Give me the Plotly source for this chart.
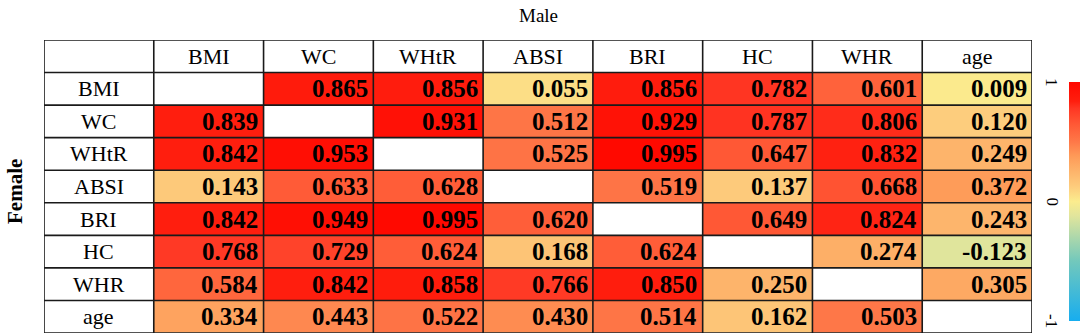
import plotly.graph_objects as go

labels = ["BMI", "WC", "WHtR", "ABSI", "BRI", "HC", "WHR", "age"]

# Upper triangle: Male; lower triangle: Female
row_BMI  = [None, 0.865, 0.856, 0.055, 0.856, 0.782, 0.601, 0.009]
row_WC   = [0.839, None, 0.931, 0.512, 0.929, 0.787, 0.806, 0.120]
row_WHtR = [0.842, 0.953, None, 0.525, 0.995, 0.647, 0.832, 0.249]
row_ABSI = [0.143, 0.633, 0.628, None, 0.519, 0.137, 0.668, 0.372]
row_BRI  = [0.842, 0.949, 0.995, 0.620, None, 0.649, 0.824, 0.243]
row_HC   = [0.768, 0.729, 0.624, 0.168, 0.624, None, 0.274, -0.123]
row_WHR  = [0.584, 0.842, 0.858, 0.766, 0.850, 0.250, None, 0.305]
row_age  = [0.334, 0.443, 0.522, 0.430, 0.514, 0.162, 0.503, None]
z = [row_BMI, row_WC, row_WHtR, row_ABSI, row_BRI, row_HC, row_WHR, row_age]

cbar_ticks = [-1, 0, 1]

colorscale = [
    [0.00, "#17adef"],
    [0.25, "#72c8bc"],
    [0.44, "#e1e59c"],
    [0.50, "#fbec8e"],
    [0.56, "#fdcd7d"],
    [0.625, "#fdb46b"],
    [0.69, "#fe9a58"],
    [0.75, "#fe7848"],
    [0.82, "#ff5a36"],
    [0.89, "#ff3623"],
    [0.92, "#ff1e0e"],
    [1.00, "#ff0800"],
]

n = len(labels)
SERIF = "Liberation Serif, Times New Roman, serif"

# plot area geometry (px)
L, R, T, B = 44, 52, 40, 2
W, H = 1084, 335
pw, ph = W - L - R, H - T - B
cb_top, cb_bot = 82, 321

fig = go.Figure()
fig.add_trace(go.Heatmap(
    z=z, x=list(range(n)), y=list(range(n)),
    zmin=-1, zmax=1, colorscale=colorscale, hoverongaps=False,
    colorbar=dict(
        thickness=11, len=(cb_bot - cb_top) / ph, lenmode="fraction",
        x=(1069 - L) / pw, xanchor="left", xpad=0, ypad=0,
        y=(H - B - (cb_top + cb_bot) / 2) / ph, yanchor="middle",
        outlinewidth=0, showticklabels=False, ticks="",
    ),
))

annotations = []
for i in range(n):
    for j in range(n):
        v = z[i][j]
        if v is None:
            continue
        annotations.append(dict(
            x=j + 0.47, y=i, xref="x", yref="y", xanchor="right", yanchor="middle",
            text=f"<b>{v:.3f}</b>", showarrow=False,
            font=dict(family=SERIF, size=25, color="black"),
        ))
for k, lab in enumerate(labels):
    annotations.append(dict(x=k, y=-1, xref="x", yref="y", text=lab, showarrow=False,
                            xanchor="center", yanchor="middle",
                            font=dict(family=SERIF, size=22, color="black")))
    annotations.append(dict(x=-1, y=k, xref="x", yref="y", text=lab, showarrow=False,
                            xanchor="center", yanchor="middle",
                            font=dict(family=SERIF, size=22, color="black")))

annotations.append(dict(x=0.5, y=(H - 15 - B) / ph, xref="paper", yref="paper", text="Male",
                        xanchor="center", yanchor="middle",
                        showarrow=False, font=dict(family=SERIF, size=19, color="black")))
annotations.append(dict(x=(15 - L) / pw, y=(H - 192 - B) / ph, xref="paper", yref="paper",
                        text="<b>Female</b>", textangle=-90, showarrow=False,
                        xanchor="center", yanchor="middle",
                        font=dict(family=SERIF, size=21, color="black")))

for t in cbar_ticks:
    ypx = cb_top + (1 - t) / 2 * (cb_bot - cb_top)
    annotations.append(dict(x=(1052 - L) / pw, y=(H - B - ypx) / ph, xref="paper", yref="paper",
                            text=str(t), textangle=90, showarrow=False,
                            xanchor="center", yanchor="middle",
                            font=dict(family=SERIF, size=17, color="black")))

shapes = []
for k in range(n + 2):
    b = k - 1.5
    shapes.append(dict(type="line", xref="x", yref="y", x0=b, x1=b, y0=-1.5, y1=n - 0.5,
                       line=dict(color="#1a1a1a", width=1.6), layer="above"))
    shapes.append(dict(type="line", xref="x", yref="y", x0=-1.5, x1=n - 0.5, y0=b, y1=b,
                       line=dict(color="#1a1a1a", width=1.6), layer="above"))

fig.update_layout(
    width=W, height=H,
    margin=dict(l=L, r=R, t=T, b=B, pad=0, autoexpand=False),
    plot_bgcolor="white", paper_bgcolor="white",
    xaxis=dict(range=[-1.5, n - 0.5], visible=False, fixedrange=True),
    yaxis=dict(range=[n - 0.5, -1.5], visible=False, fixedrange=True),
    annotations=annotations, shapes=shapes, showlegend=False,
)

fig.write_html(
    "out.html",
    config={"displayModeBar": False},
    post_script="document.body.style.margin='0';document.body.style.overflow='hidden';",
)
